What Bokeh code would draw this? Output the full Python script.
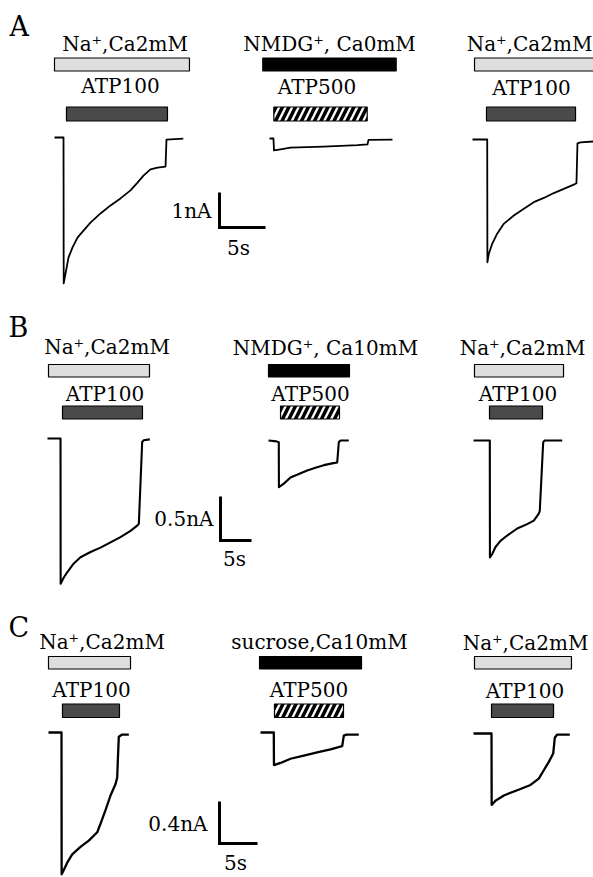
from bokeh.plotting import figure
from bokeh.models import Range1d
from bokeh.embed import file_html
from bokeh.resources import INLINE
from bokeh.core.properties import value

# ---------------- data (time in s, current in nA) ----------------
a1_t = [0, 0.98, 1.0, 1.2, 1.52, 1.96, 2.5, 3.15, 3.91, 5.0, 6.09, 7.17, 8.26, 9.02, 9.67, 10.43, 11.2, 12.07, 12.17, 14.0]
a1_i = [0, 0, -4.17, -3.89, -3.43, -3.14, -2.86, -2.66, -2.43, -2.17, -1.94, -1.74, -1.51, -1.29, -1.09, -0.91, -0.86, -0.83, -0.06, -0.03]
a2_t = [0, 0.43, 0.49, 1.2, 2.28, 5.87, 9.57, 10.65, 10.76, 13.37]
a2_i = [0, 0, -0.34, -0.31, -0.26, -0.23, -0.19, -0.17, -0.04, -0.03]
a3_t = [0, 1.6, 1.62, 1.77, 2.14, 2.68, 3.40, 4.49, 5.58, 6.66, 7.75, 8.84, 9.92, 11.01, 11.3, 11.41, 11.74, 13.5]
a3_i = [0, 0, -3.51, -3.27, -2.98, -2.69, -2.41, -2.17, -1.98, -1.79, -1.67, -1.53, -1.41, -1.29, -1.25, -0.11, -0.08, -0.05]

b1_t = [0, 2.1, 2.12, 2.63, 3.18, 4.24, 5.32, 6.94, 8.55, 10.16, 11.77, 13.39, 14.47, 14.73, 15.27, 15.53, 16.5]
b1_i = [0, 0, -1.65, -1.58, -1.52, -1.42, -1.35, -1.29, -1.24, -1.18, -1.12, -1.05, -0.99, -0.97, -0.04, -0.02, -0.01]
b2_t = [0, 1.29, 1.66, 1.68, 2.47, 3.55, 4.89, 6.24, 7.58, 8.92, 10.27, 11.08, 11.34, 11.61, 12.95]
b2_i = [0, -0.01, -0.02, -0.53, -0.49, -0.42, -0.38, -0.34, -0.31, -0.28, -0.26, -0.25, -0.02, 0, 0]
b3_t = [0, 2.63, 2.65, 3.02, 3.55, 4.35, 5.44, 7.05, 8.66, 9.73, 10.53, 10.69, 11.24, 11.45, 14.31]
b3_i = [0, 0, -1.33, -1.29, -1.21, -1.14, -1.08, -1.0, -0.95, -0.91, -0.83, -0.8, -0.02, 0, 0]

c1_t = [0, 1.71, 1.73, 2.01, 2.46, 3.12, 4.21, 5.3, 6.41, 6.84, 7.5, 8.16, 8.82, 9.04, 9.12, 9.25, 9.7, 10.57]
c1_i = [0, 0, -1.35, -1.31, -1.24, -1.16, -1.09, -1.03, -0.95, -0.87, -0.74, -0.6, -0.49, -0.43, -0.27, -0.04, -0.02, -0.02]
c2_t = [0, 1.75, 1.77, 2.63, 3.95, 5.7, 7.46, 9.21, 10.75, 10.96, 11.32, 12.93]
c2_i = [0, 0, -0.31, -0.29, -0.25, -0.22, -0.19, -0.16, -0.13, -0.03, -0.02, -0.02]
c3_t = [0, 2.37, 2.39, 2.89, 3.99, 5.75, 7.5, 8.59, 9.25, 9.91, 10.49, 10.7, 11.01, 12.67]
c3_i = [0, 0, -0.68, -0.64, -0.59, -0.54, -0.49, -0.43, -0.35, -0.27, -0.19, -0.04, -0.01, -0.01]

sol_labels = ["Na⁺,Ca2mM", "NMDG⁺, Ca0mM", "Na⁺,Ca2mM",
              "Na⁺,Ca2mM", "NMDG⁺, Ca10mM", "Na⁺,Ca2mM",
              "Na⁺,Ca2mM", "sucrose,Ca10mM", "Na⁺,Ca2mM"]
atp_labels = ["ATP100", "ATP500", "ATP100",
              "ATP100", "ATP500", "ATP100",
              "ATP100", "ATP500", "ATP100"]
sol_on = [0.0, -0.73, 0.22, 0.16, 0.0, 0.16, 0.0, -0.13, 0.13]
sol_off = [14.67, 13.77, 14.5, 16.45, 13.06, 14.52, 10.79, 13.29, 12.89]
atp_on = [1.3, 0.47, 1.52, 2.42, 1.94, 2.58, 1.84, 1.84, 2.37]
atp_off = [12.28, 10.62, 11.2, 15.32, 11.45, 11.13, 9.34, 10.92, 10.53]

panel_letters = ["A", "B", "C"]
scale_nA = [1.0, 0.5, 0.4]
scale_s = [5.0, 5.0, 5.0]
scale_nA_labels = ["1nA", "0.5nA", "0.4nA"]
scale_s_labels = ["5s", "5s", "5s"]

traces = [(a1_t, a1_i), (a2_t, a2_i), (a3_t, a3_i),
          (b1_t, b1_i), (b2_t, b2_i), (b3_t, b3_i),
          (c1_t, c1_i), (c2_t, c2_i), (c3_t, c3_i)]

# ---------------- layout (page pixels) ----------------
W, H = 593, 877
X0, X1, Y0, Y1 = 0, W, 0, H
TXT_DY = 8      # alphabetic-baseline correction for 20px text
LET_DY = 10     # same for the panel letters
row_px_per_s = [9.2, 6.2, 7.6]
row_px_per_nA = [35.0, 88.0, 105.0]
row_line_w = [1.8, 2.1, 2.3]
trace_x0 = [54, 269, 472, 47, 268, 473, 48, 260, 473]
trace_yb = [137, 138, 139, 438, 440, 440, 732, 732, 733]
sol_bar_y = [(57.5, 70.5), (364, 376.5), (656, 668.5)]
atp_bar_y = [(106.5, 120.5), (405.5, 418.5), (703.5, 717)]
sol_text_x = [124.5, 329, 529, 106.5, 325, 522, 101.5, 319, 525]
sol_text_y = [51, 51, 51, 354, 355, 355, 649, 649, 650]
atp_text_x = [120, 316.5, 531, 104.5, 310, 517.5, 91, 308.5, 524.5]
atp_text_y = [93, 94, 95, 401.5, 401.5, 401.5, 697, 697, 698]
letter_x = [9, 8, 8]
letter_y = [36, 336.5, 636.5]
sb_corner = [(219, 227), (220, 540), (219, 843)]
nA_label_pos = [(211, 218), (213, 526), (207, 831)]
s_label_pos = [(238, 255), (234, 566), (235, 870)]

FONT = value("DejaVu Serif")

p = figure(width=W, height=H, x_range=Range1d(X0, X1), y_range=Range1d(Y1, Y0),
           output_backend="svg", toolbar_location=None, min_border=0,
           x_axis_location=None, y_axis_location=None)
p.grid.visible = False
p.outline_line_color = None
p.background_fill_color = "white"

xr, yr = {}, {}
for n in range(9):
    r = n // 3
    s, k = row_px_per_s[r], row_px_per_nA[r]
    xr[f"t{n}"] = Range1d((X0 - trace_x0[n]) / s, (X1 - trace_x0[n]) / s)
    yr[f"i{n}"] = Range1d((trace_yb[n] - Y1) / k, (trace_yb[n] - Y0) / k)
for r in range(3):
    s, k = row_px_per_s[r], row_px_per_nA[r]
    cx, cy = sb_corner[r]
    xr[f"sb{r}"] = Range1d((X0 - cx) / s, (X1 - cx) / s)
    yr[f"sb{r}"] = Range1d((cy - Y1) / k, (cy - Y0) / k)
p.extra_x_ranges = xr
p.extra_y_ranges = yr

for n in range(9):
    r = n // 3
    t, i = traces[n]
    p.line(t, i, x_range_name=f"t{n}", y_range_name=f"i{n}",
           line_color="black", line_width=row_line_w[r], line_join="round")
    sy = sol_bar_y[r]
    if sol_labels[n].startswith("Na"):
        p.quad(left=[sol_on[n]], right=[sol_off[n]], top=[sy[0]], bottom=[sy[1]],
               x_range_name=f"t{n}", fill_color="#dedede", line_color="black", line_width=1.2)
    else:
        p.quad(left=[sol_on[n]], right=[sol_off[n]], top=[sy[0]], bottom=[sy[1]],
               x_range_name=f"t{n}", fill_color="black", line_color="black", line_width=1.2)
    ay = atp_bar_y[r]
    if atp_labels[n] == "ATP100":
        p.quad(left=[atp_on[n]], right=[atp_off[n]], top=[ay[0]], bottom=[ay[1]],
               x_range_name=f"t{n}", fill_color="#4a4a4a", line_color="black", line_width=1.2)
    else:
        p.quad(left=[atp_on[n]], right=[atp_off[n]], top=[ay[0]], bottom=[ay[1]],
               x_range_name=f"t{n}", fill_color="white", hatch_pattern="/",
               hatch_color="black", hatch_weight=3.5, hatch_scale=13,
               line_color="black", line_width=1.2)

p.text(x=sol_text_x, y=[v - TXT_DY for v in sol_text_y], text=sol_labels, text_font=FONT,
       text_font_size="20px", text_align="center", text_baseline="alphabetic", text_color="black")
p.text(x=atp_text_x, y=[v - TXT_DY for v in atp_text_y], text=atp_labels, text_font=FONT,
       text_font_size="20px", text_align="center", text_baseline="alphabetic", text_color="black")
p.text(x=letter_x, y=[v - LET_DY for v in letter_y], text=panel_letters, text_font=FONT,
       text_font_size="27px", text_align="left", text_baseline="alphabetic", text_color="black")

for r in range(3):
    p.line([0, 0, scale_s[r]], [scale_nA[r], 0, 0], x_range_name=f"sb{r}", y_range_name=f"sb{r}",
           line_color="black", line_width=3, line_join="miter")
p.text(x=[q[0] for q in nA_label_pos], y=[q[1] - TXT_DY for q in nA_label_pos], text=scale_nA_labels,
       text_font=FONT, text_font_size="20px", text_align="right", text_baseline="alphabetic")
p.text(x=[q[0] for q in s_label_pos], y=[q[1] - TXT_DY for q in s_label_pos], text=scale_s_labels,
       text_font=FONT, text_font_size="20px", text_align="center", text_baseline="alphabetic")

open("out.html", "w").write(file_html(p, INLINE))
